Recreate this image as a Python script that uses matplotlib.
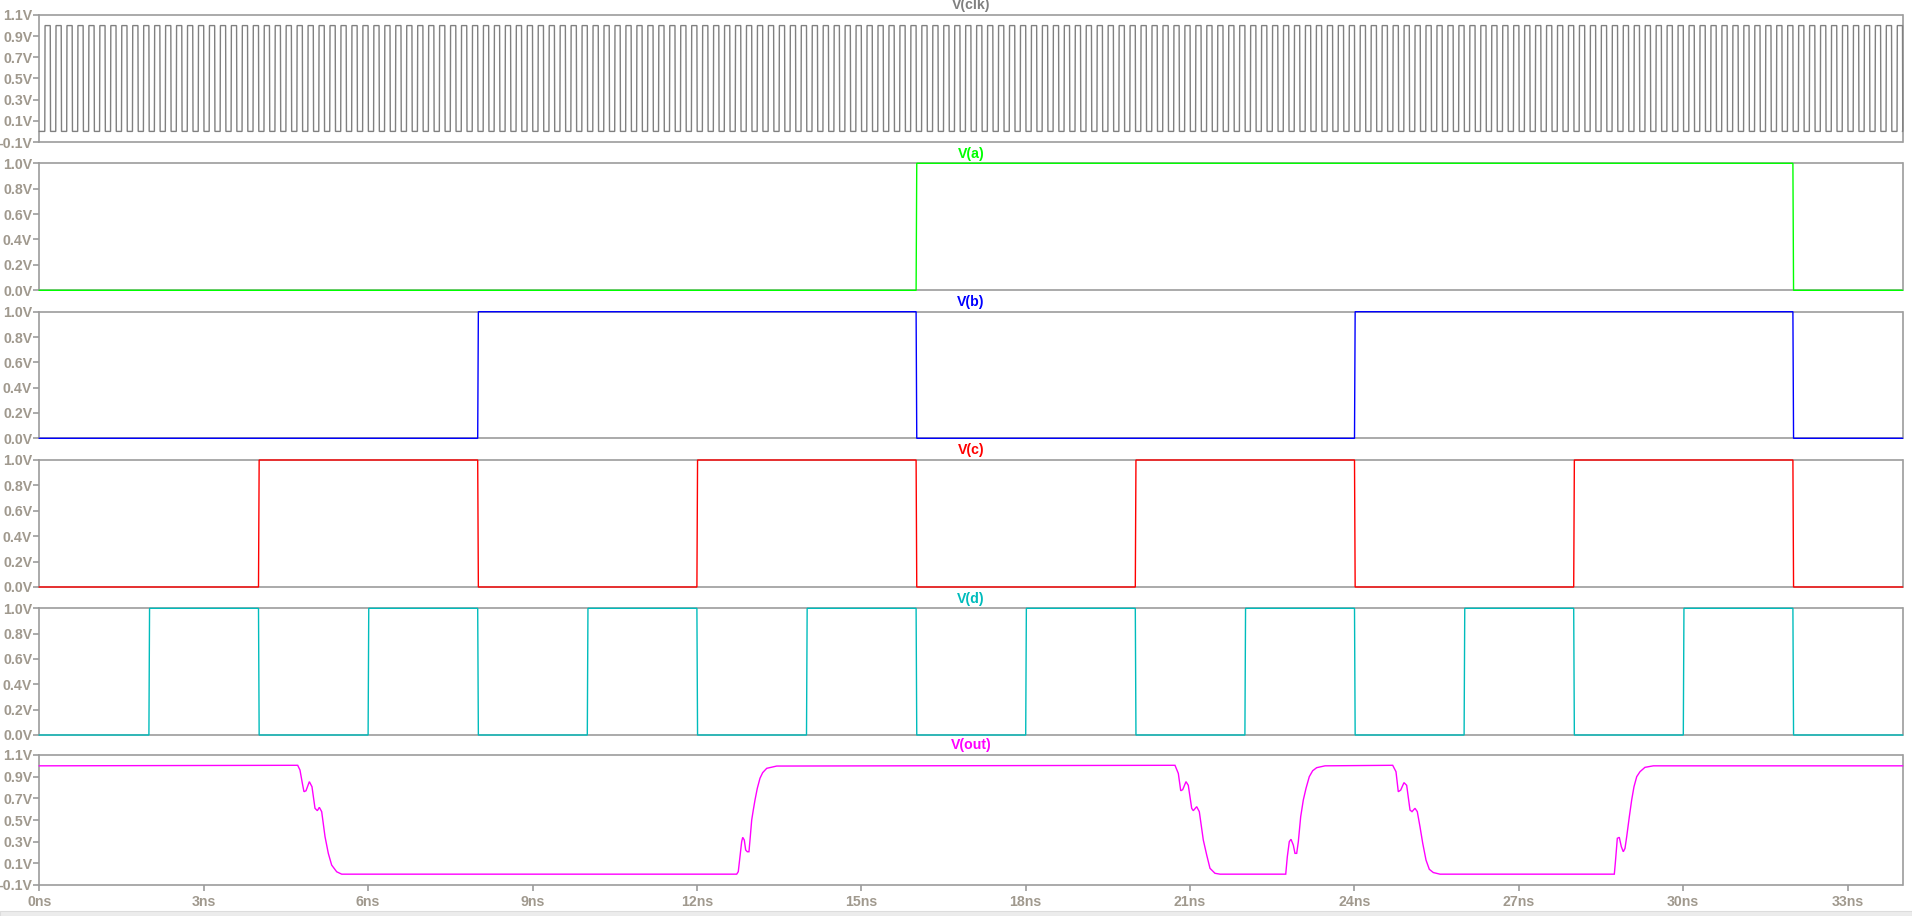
import matplotlib
matplotlib.use('Agg')
import matplotlib.pyplot as plt
from matplotlib.ticker import FixedLocator

# ---------------- data ----------------
T_END = 34.0  # ns, right edge of the time axis

# V(clk): SPICE-style PULSE source parameters (ns, V)
clk_delay = 0.1
clk_period = 0.2
clk_width = 0.1
clk_edge = 0.005
clk_high = 1.0

# toggle times (ns) of the digital inputs, each starts low
a_edges = [16, 32]
b_edges = [8, 16, 24, 32]
c_edges = [4, 8, 12, 16, 20, 24, 28, 32]
d_edges = [2, 4, 6, 8, 10, 12, 14, 16, 18, 20, 22, 24, 26, 28, 30, 32]
edge_time = 0.012

# V(out) samples (ns, V)
out_t = [0.0, 4.715, 4.757, 4.800, 4.830, 4.867, 4.928, 4.976, 5.031, 5.074, 5.110, 5.153, 5.214, 5.274, 5.335, 5.427, 5.518,
         12.726, 12.755, 12.786, 12.817, 12.836, 12.865, 12.89, 12.92, 12.95, 12.969, 13.0, 13.029, 13.06, 13.102, 13.151, 13.2, 13.274, 13.456,
         20.724, 20.785, 20.829, 20.865, 20.925, 20.967, 21.029, 21.058, 21.12, 21.168, 21.241, 21.303, 21.363, 21.454, 21.546,
         22.745, 22.774, 22.81, 22.841, 22.883, 22.914, 22.945, 22.975, 23.018, 23.066, 23.115, 23.175, 23.237, 23.31, 23.462,
         24.697, 24.757, 24.799, 24.843, 24.903, 24.952, 25.013, 25.049, 25.104, 25.146, 25.195, 25.245, 25.305, 25.365, 25.438, 25.56,
         28.741, 28.759, 28.796, 28.832, 28.869, 28.905, 28.936, 28.967, 29.015, 29.058, 29.1, 29.15, 29.21, 29.30, 29.453, 34.0]
out_v = [1.0, 1.005, 0.961, 0.839, 0.761, 0.77, 0.854, 0.807, 0.608, 0.586, 0.617, 0.577, 0.346, 0.192, 0.084, 0.022, 0.0,
         0.0, 0.023, 0.161, 0.30, 0.34, 0.315, 0.223, 0.207, 0.207, 0.315, 0.50, 0.592, 0.684, 0.792, 0.885, 0.937, 0.977, 0.998,
         1.005, 0.93, 0.77, 0.78, 0.854, 0.82, 0.608, 0.586, 0.623, 0.577, 0.315, 0.177, 0.054, 0.008, 0.0,
         0.0, 0.161, 0.30, 0.322, 0.269, 0.192, 0.192, 0.30, 0.53, 0.685, 0.792, 0.90, 0.955, 0.983, 1.0,
         1.005, 0.946, 0.761, 0.776, 0.845, 0.82, 0.592, 0.577, 0.608, 0.577, 0.438, 0.285, 0.13, 0.045, 0.015, 0.0,
         0.0, 0.10, 0.331, 0.34, 0.254, 0.207, 0.238, 0.346, 0.53, 0.685, 0.807, 0.90, 0.946, 0.986, 1.0, 1.0]

trace_names = ['V(clk)', 'V(a)', 'V(b)', 'V(c)', 'V(d)', 'V(out)']
x_ticks = [0, 3, 6, 9, 12, 15, 18, 21, 24, 27, 30, 33]
x_tick_labels = ['0ns', '3ns', '6ns', '9ns', '12ns', '15ns', '18ns', '21ns', '24ns', '27ns', '30ns', '33ns']
y_ticks_wide = [-0.1, 0.1, 0.3, 0.5, 0.7, 0.9, 1.1]
y_labels_wide = ['-0.1V', '0.1V', '0.3V', '0.5V', '0.7V', '0.9V', '1.1V']
y_ticks_unit = [0.0, 0.2, 0.4, 0.6, 0.8, 1.0]
y_labels_unit = ['0.0V', '0.2V', '0.4V', '0.6V', '0.8V', '1.0V']

# ---------------- waveform construction ----------------
def clock_wave():
    t, v = [0.0], [0.0]
    start = clk_delay
    while start < T_END:
        fall = start + clk_width
        t += [start, start + clk_edge, fall, fall + clk_edge]
        v += [0.0, clk_high, clk_high, 0.0]
        start += clk_period
    t.append(T_END)
    v.append(v[-1])
    return t, v

def toggle_wave(edges):
    t, v = [0.0], [0.0]
    level = 0.0
    for e in edges:
        t += [e, e + edge_time]
        v += [level, 1.0 - level]
        level = 1.0 - level
    t.append(T_END)
    v.append(level)
    return t, v

waves = [clock_wave(), toggle_wave(a_edges), toggle_wave(b_edges),
         toggle_wave(c_edges), toggle_wave(d_edges), (out_t, out_v)]
colors = ['#808080', '#00ff00', '#0000ff', '#ff0000', '#00bcbc', '#ff00ff']

# ---------------- layout ----------------
W, H = 1912, 916
fig = plt.figure(figsize=(W / 100, H / 100), dpi=100)
fig.patch.set_facecolor('white')

left_px, right_px = 39.3, 1902.5
tops = [15, 163.3, 311.7, 460, 608.3, 755]
bots = [142, 290.3, 438.3, 587, 735, 885]

spine_col = '#9c9c9c'
label_col = '#a0998e'
font = {'family': ['Liberation Sans', 'DejaVu Sans'], 'weight': 'bold', 'size': 10.2}

for i in range(6):
    ax = fig.add_axes([left_px / W, 1 - bots[i] / H, (right_px - left_px) / W, (bots[i] - tops[i]) / H])
    t, v = waves[i]
    ax.plot(t, v, color=colors[i], lw=1.0, clip_on=False, zorder=3, solid_joinstyle='miter')
    ax.set_xlim(0, T_END)
    if i in (0, 5):
        ax.set_ylim(-0.1, 1.1)
        ax.yaxis.set_major_locator(FixedLocator(y_ticks_wide))
        ax.set_yticklabels(y_labels_wide, fontdict=font, color=label_col)
    else:
        ax.set_ylim(0.0, 1.0)
        ax.yaxis.set_major_locator(FixedLocator(y_ticks_unit))
        ax.set_yticklabels(y_labels_unit, fontdict=font, color=label_col)
    for s in ax.spines.values():
        s.set_color(spine_col)
        s.set_linewidth(1.2)
    ax.tick_params(axis='y', direction='out', length=4.5, width=1.2, color=spine_col, pad=0.6)
    if i == 5:
        ax.xaxis.set_major_locator(FixedLocator(x_ticks))
        ax.set_xticklabels(x_tick_labels, fontdict=font, color=label_col)
        ax.tick_params(axis='x', direction='out', length=4.5, width=1.2, color=spine_col, pad=3)
    else:
        ax.set_xticks([])
    ax.text(0.5, 1.0 + 9.5 / (bots[i] - tops[i]), trace_names[i], transform=ax.transAxes,
            ha='center', va='center', color=colors[i], fontdict=font)

# faint bar at the very bottom (window edge)
fig.patches.append(plt.Rectangle((0, 0), 1, 5 / H, transform=fig.transFigure,
                                 facecolor='#ececec', edgecolor='#dcdcdc', lw=0.8))

fig.savefig('out.png', dpi=100, facecolor='white')
